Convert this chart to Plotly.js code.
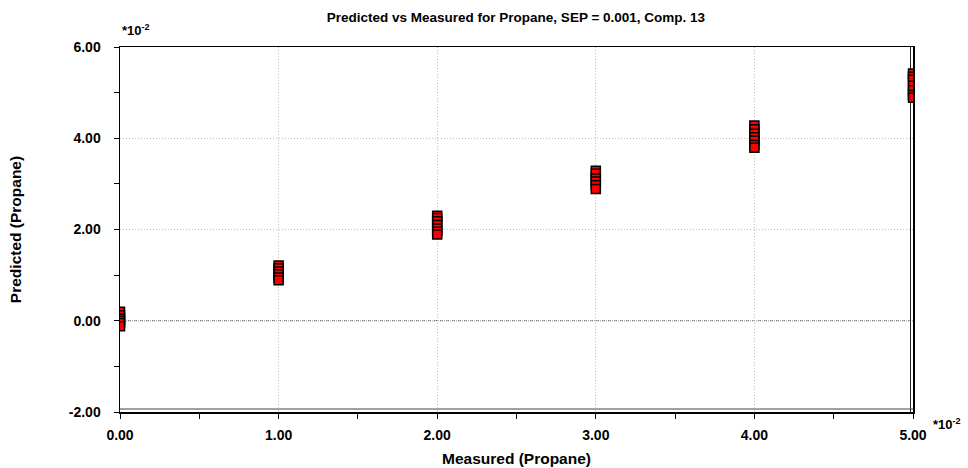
<!DOCTYPE html>
<html>
<head>
<meta charset="utf-8">
<script src="https://cdn.plot.ly/plotly-3.0.1.min.js"></script>
<style>html,body{margin:0;padding:0;background:#fff;}#chart{width:968px;height:468px;}</style>
</head>
<body>
<div id="chart"></div>
<script>
// Measured concentration levels (units of 1e-2)
const measuredLevels = [0, 1, 2, 3, 4, 5];
// Predicted values per level (units of 1e-2)
const predicted0 = [0.20, 0.12, 0.05, 0.00, -0.05, -0.12];
const predicted1 = [1.21, 1.15, 1.08, 1.02, 0.95, 0.89];
const predicted2 = [2.30, 2.25, 2.18, 2.10, 2.02, 1.95, 1.89];
const predicted3 = [3.29, 3.22, 3.12, 3.05, 2.97, 2.89];
const predicted4 = [4.28, 4.20, 4.10, 4.02, 3.95, 3.85, 3.79];
const predicted5 = [5.42, 5.35, 5.28, 5.15, 5.05, 4.95, 4.89];
const predictedByLevel = [predicted0, predicted1, predicted2, predicted3, predicted4, predicted5];

const xTickVals = [0, 1, 2, 3, 4, 5];
const xTickText = ['0.00', '1.00', '2.00', '3.00', '4.00', '5.00'];
const yTickVals = [-2, 0, 2, 4, 6];
const yTickText = ['-2.00', '0.00', '2.00', '4.00', '6.00'];

const xs = [], ys = [];
measuredLevels.forEach((m, i) => {
  predictedByLevel[i].forEach(v => { xs.push(m); ys.push(v); });
});

const trace = {
  x: xs, y: ys, type: 'scatter', mode: 'markers',
  marker: { symbol: 'square', size: 9, color: '#ff0000', line: { color: '#000000', width: 1.5 } },
  hoverinfo: 'x+y'
};

const fontFam = 'Liberation Sans, Arial, sans-serif';
const layout = {
  width: 968, height: 468,
  margin: { l: 120, r: 55, t: 47, b: 56 },
  paper_bgcolor: '#ffffff', plot_bgcolor: '#ffffff',
  showlegend: false,
  font: { family: fontFam, color: '#000' },
  title: { text: '<b>Predicted vs Measured for Propane, SEP = 0.001, Comp. 13</b>', font: { size: 13.5, family: fontFam }, x: 0.533, xanchor: 'center', y: 0.963, yanchor: 'middle' },
  xaxis: {
    range: [0, 5], tickvals: xTickVals, ticktext: xTickText,
    showline: true, linecolor: '#000', linewidth: 1.5, mirror: true,
    ticks: 'outside', ticklen: 5, tickcolor: '#000',
    minor: { ticks: 'outside', ticklen: 5, tickcolor: '#000', dtick: 0.5, tick0: 0, showgrid: false },
    showgrid: true, gridcolor: '#bdbdbd', griddash: '1px,2px', gridwidth: 1,
    zeroline: false,
    tickfont: { size: 14, weight: 'bold', family: fontFam },
    ticklabelstandoff: 5,
    title: { text: '<b>Measured (Propane)</b>', font: { size: 15.5, family: fontFam }, standoff: 11 }
  },
  yaxis: {
    range: [-2, 6], tickvals: yTickVals, ticktext: yTickText,
    showline: true, linecolor: '#000', linewidth: 1.5, mirror: true,
    ticks: 'outside', ticklen: 5, tickcolor: '#000',
    minor: { ticks: 'outside', ticklen: 5, tickcolor: '#000', dtick: 1, tick0: 0, showgrid: false },
    showgrid: true, gridcolor: '#bdbdbd', griddash: '1px,2px', gridwidth: 1,
    zeroline: false,
    tickfont: { size: 14, weight: 'bold', family: fontFam },
    ticklabelstandoff: 10,
    title: { text: '<b>Predicted (Propane)</b>', font: { size: 15.5, family: fontFam }, standoff: 43 }
  },
  shapes: [
    { type: 'line', xref: 'paper', x0: 0, x1: 1, yref: 'y', y0: 0, y1: 0,
      line: { color: '#555555', width: 1.2, dash: '1px,1px' }, layer: 'below' },
    { type: 'line', xref: 'paper', xsizemode: 'pixel', xanchor: 1, x0: -2.5, x1: -2.5, yref: 'paper', y0: 0, y1: 1,
      line: { color: '#222', width: 1 }, layer: 'below' },
    { type: 'line', xref: 'paper', x0: 0, x1: 1, yref: 'paper', ysizemode: 'pixel', yanchor: 0, y0: 3, y1: 3,
      line: { color: '#444', width: 1 }, layer: 'below' }
  ],
  annotations: [
    { xref: 'paper', yref: 'paper', x: 0, y: 1, xanchor: 'left', yanchor: 'bottom', yshift: 7,
      text: '<b>*10<sup>-2</sup></b>', showarrow: false, font: { size: 13, family: fontFam } },
    { xref: 'paper', yref: 'paper', x: 1, y: 0, xanchor: 'left', yanchor: 'top', xshift: 18, yshift: -2,
      text: '<b>*10<sup>-2</sup></b>', showarrow: false, font: { size: 13, family: fontFam } }
  ]
};

Plotly.newPlot('chart', [trace], layout, { displayModeBar: false, staticPlot: true });
</script>
</body>
</html>
